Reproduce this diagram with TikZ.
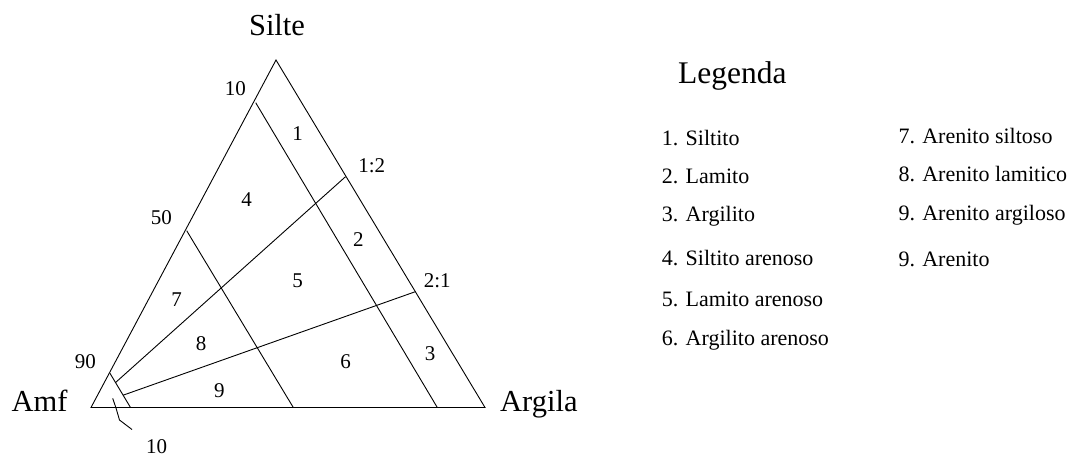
\documentclass[tikz,border=0pt]{standalone}
\usepackage{fontspec}
\setmainfont{Liberation Serif}
\usetikzlibrary{calc}
\begin{document}
\begin{tikzpicture}[x=1pt,y=-1pt,
  edge/.style={line width=0.9pt, black},
  big/.style={font=\fontsize{30.5}{36}\selectfont, inner sep=0pt},
  num/.style={font=\fontsize{21}{25}\selectfont, inner sep=0pt},
  leg/.style={font=\fontsize{22}{26}\selectfont, inner sep=0pt, anchor=base west},
]
\useasboundingbox (0,0) rectangle (1089,456);
% triangle corners
\coordinate (A) at (91,407.5);
\coordinate (S) at (276,60);
\coordinate (R) at (485,407.5);
% division points
\coordinate (p10) at (255.7,102.7);
\coordinate (q10) at (437.3,407.5);
\coordinate (p50) at (186.7,230.7);
\coordinate (q50) at (293.3,407.5);
\coordinate (p90) at (110,373.3);
\coordinate (q90) at (130.5,407.5);
\coordinate (r12) at (345.5,176.7);
\coordinate (r21) at (415.3,291.7);
\coordinate (e12) at ($(p90)!0.27!(q90)$);
\coordinate (e21) at ($(p90)!0.64!(q90)$);
\coordinate (c0) at (112.7,398.3);
\coordinate (c3) at (132,429.5);

\draw[edge] (A) -- (S) -- (R) -- cycle;
\draw[edge] (p10) -- (q10);
\draw[edge] (p50) -- (q50);
\draw[edge] (p90) -- (q90);
\draw[edge] (r12) -- (e12);
\draw[edge] (r21) -- (e21);
\draw[edge] (c0) -- (116,408) -- (119.5,420) -- (c3);

% corner labels
\node[big, anchor=base] (silte) at (277,35) {Silte};
\node[big, anchor=base west] (amf) at (11.5,411.7) {Amf};
\node[big, anchor=base west] (argila) at (500,411.7) {Argila};

% scale labels
\node[num] (t10) at (235.3,88.3) {10};
\node[num] (t50) at (161.3,218) {50};
\node[num] (t90) at (85.3,361.5) {90};
\node[num] (tb10) at (156.7,446.5) {10};
\node[num] (t12) at (371.7,165.3) {1:2};
\node[num] (t21) at (437.3,280.7) {2:1};

% region labels
\node[num] (z1) at (297.7,133.3) {1};
\node[num] (z2) at (358.3,239.3) {2};
\node[num] (z3) at (430,353.3) {3};
\node[num] (z4) at (246.7,200) {4};
\node[num] (z5) at (297.7,280.7) {5};
\node[num] (z6) at (345.7,361.7) {6};
\node[num] (z7) at (176.7,299.7) {7};
\node[num] (z8) at (201,344) {8};
\node[num] (z9) at (219.3,390.3) {9};

% legend
\node[font=\fontsize{31.5}{36}\selectfont, inner sep=0pt, anchor=base west] (legenda) at (678,83.3) {Legenda};
\node[leg] (l1) at (661.7,145) {1. Siltito};
\node[leg] (l2) at (661.7,183.3) {2. Lamito};
\node[leg] (l3) at (661.7,221.7) {3. Argilito};
\node[leg] (l4) at (661.7,265) {4. Siltito arenoso};
\node[leg] (l5) at (661.7,306) {5. Lamito arenoso};
\node[leg] (l6) at (661.7,345) {6. Argilito arenoso};
\node[leg] (l7) at (898.3,143.3) {7. Arenito siltoso};
\node[leg] (l8) at (898.3,181.7) {8. Arenito lamitico};
\node[leg] (l9) at (898.3,220) {9. Arenito argiloso};
\node[leg] (l10) at (898.3,266.7) {9. Arenito};
\end{tikzpicture}
\end{document}
